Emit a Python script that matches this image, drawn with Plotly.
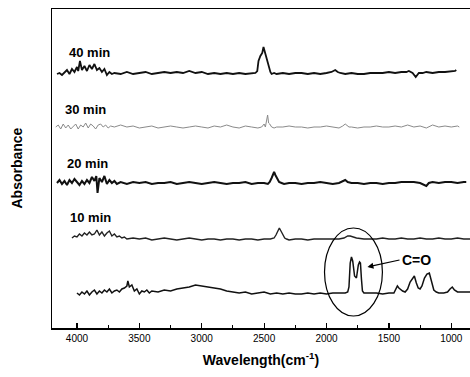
import plotly.graph_objects as go

# ---- data (wavenumber in cm^-1, absorbance offsets in arbitrary units) ----
x40 = [4160,4140,4120,4100,4080,4060,4040,4020,4000,3990,3976,3960,3940,3920,3900,3880,3860,3840,3820,3800,3780,3760,3740,3720,3700,
       3650,3600,3550,3500,3450,3400,3350,3300,3250,3200,3150,3100,3050,3000,2950,2900,2850,2800,2750,2700,2650,2600,2570,2555,2545,
       2530,2515,2505,2495,2485,2475,2465,2450,2440,2420,2400,2350,2300,2250,2200,2150,2100,2050,2000,1960,1930,1910,1890,1850,1800,
       1750,1700,1650,1600,1550,1500,1450,1400,1360,1340,1310,1285,1260,1230,1200,1150,1100,1050,1000,970,960]
y40 = [-1,0,-2,1,3,-1,4,1,6,2,12,3,7,2,8,4,9,3,5,1,4,-2,1,-1,0,
       -1,1,-1,0,1,-1,0,1,0,1,0,2,0,1,-1,0,-1,0,-1,0,-1,0,0,2,12,
       17,20,26,21,16,13,6,1,-1,0,-1,0,-1,0,0,-1,0,-1,0,1,3,1,0,-1,0,
       -1,-1,0,0,0,1,0,1,1,2,0,-4,0,0,1,0,1,1,2,2,3]

x30 = [4170,4150,4130,4110,4090,4070,4050,4030,4010,3990,3970,3950,3930,3910,3890,3870,3850,3830,3810,3790,3770,3750,3730,3700,
       3650,3600,3550,3500,3450,3400,3350,3300,3250,3200,3150,3100,3050,3000,2950,2900,2850,2800,2750,2700,2650,2600,2550,2520,
       2500,2490,2480,2472,2464,2455,2440,2420,2400,2350,2300,2250,2200,2150,2100,2050,2000,1950,1900,1870,1850,1820,1800,1750,
       1700,1650,1600,1550,1500,1450,1400,1350,1300,1250,1200,1150,1100,1050,1000,950,936]
y30 = [0,2,-2,3,-1,2,-2,1,3,-2,2,0,4,-1,3,1,-2,2,3,0,2,-1,1,0,
       2,0,1,-1,0,1,-1,0,1,0,-1,0,1,0,-1,1,0,2,0,-1,1,0,-1,0,
       3,0,6,12,4,3,0,-1,0,0,1,0,0,-1,0,0,1,0,-1,1,3,0,0,-1,
       0,0,1,0,0,1,0,2,0,1,-1,2,0,1,0,1,0]

x20 = [4160,4140,4120,4100,4080,4060,4040,4020,4000,3980,3960,3940,3920,3900,3880,3860,3845,3835,3820,3800,3780,3760,3740,3720,
       3700,3680,3650,3600,3550,3500,3450,3400,3350,3300,3250,3200,3150,3100,3050,3000,2950,2900,2850,2800,2750,2700,2650,2600,
       2550,2500,2470,2455,2440,2430,2420,2410,2395,2380,2360,2340,2300,2250,2200,2150,2100,2050,2000,1950,1900,1870,1850,1830,
       1800,1750,1700,1650,1600,1550,1500,1450,1400,1350,1300,1250,1220,1200,1180,1150,1100,1050,1000,950,900,880]
y20 = [0,3,-1,2,-2,3,0,4,1,-2,2,-1,3,0,6,2,7,-10,5,1,7,-1,3,0,
       2,-1,1,-1,1,0,1,-1,0,0,1,-1,0,1,0,-1,0,1,0,-1,0,0,1,-1,
       0,0,-1,1,5,9,11,8,5,1,0,-1,0,0,-1,0,0,1,0,-1,0,2,3,1,
       0,0,-1,0,0,-1,0,0,1,1,1,0,-2,-3,0,1,0,1,1,0,1,1]

x10 = [4040,4020,4000,3980,3960,3940,3920,3900,3880,3860,3840,3820,3800,3780,3760,3740,3720,3700,3680,3660,3640,3620,3600,
       3550,3500,3450,3400,3350,3300,3250,3200,3150,3100,3050,3000,2950,2900,2850,2800,2750,2700,2650,2600,2550,2500,2450,
       2420,2405,2390,2378,2365,2350,2335,2320,2300,2250,2200,2150,2100,2050,2000,1950,1900,1860,1830,1810,1790,1760,1700,
       1650,1600,1550,1500,1450,1400,1350,1300,1250,1200,1150,1100,1050,1000,950,900,850]
y10 = [1,3,2,5,3,6,4,7,4,5,9,4,7,3,6,8,3,5,2,3,1,2,0,
       1,0,1,-1,0,1,0,-1,0,1,0,-1,0,0,-1,0,0,-1,0,0,-1,0,0,
       1,4,9,11,8,4,1,0,-1,0,0,-1,0,0,0,0,0,1,3,3,2,1,0,
       0,0,1,0,0,1,0,0,1,0,0,1,0,0,1,0,0]

xb = [4000,3980,3960,3940,3920,3900,3880,3860,3840,3820,3800,3780,3760,3740,3720,3700,3680,3660,3640,3620,3600,3592,3580,
      3560,3540,3520,3500,3480,3460,3440,3420,3400,3350,3300,3250,3200,3150,3100,3050,3000,2950,2900,2850,2800,2750,2700,
      2650,2600,2550,2500,2450,2400,2350,2300,2250,2200,2150,2100,2050,2000,1950,1900,1850,1830,1820,1810,1800,1790,1775,
      1760,1745,1735,1728,1720,1712,1700,1650,1600,1550,1500,1460,1440,1432,1420,1405,1390,1370,1350,1330,1310,1296,1280,
      1265,1250,1235,1215,1195,1176,1160,1140,1120,1100,1060,1030,1010,992,975,950,900,850]
yb = [0,-2,1,-1,2,-2,1,3,-1,2,0,3,1,4,0,2,3,1,4,5,7,12,6,
      8,2,4,-1,2,1,3,0,2,1,3,2,4,5,6,8,7,6,5,4,2,1,0,
      1,-1,0,1,-1,0,-1,0,-1,-1,0,-1,0,-1,0,0,0,1,6,30,36,32,17,
      15,28,31,30,14,2,0,0,0,-1,0,0,5,7,5,3,2,1,4,11,15,17,10,
      5,4,7,15,19,20,12,3,1,0,0,1,4,6,3,1,1,1]

labels = ["40 min", "30 min", "20 min", "10 min"]
offsets = [255, 201, 145, 89, 35]
xs = [x40, x30, x20, x10, xb]
ys = [y40, y30, y20, y10, yb]
colors = ["#111111", "#8a8a8a", "#111111", "#222222", "#111111"]
widths = [1.8, 1.0, 2.0, 1.4, 1.5]
label_x = [4080, 4112, 4096, 4072]
label_y = [276, 219, 165, 111]

tick_vals = [4000, 3500, 3000, 2500, 2000, 1500, 1000]
tick_text = ["4000", "3500", "3000", "2500", "2000", "1500", "1000"]

FONT = "Liberation Sans, Arial"

fig = go.Figure()
for x, y, off, c, w in zip(xs, ys, offsets, colors, widths):
    fig.add_trace(go.Scatter(x=x, y=[v + off for v in y], mode="lines",
                             line=dict(color=c, width=w), showlegend=False, hoverinfo="skip"))

for t, lx, ly in zip(labels, label_x, label_y):
    fig.add_annotation(x=lx, y=ly, text=f"<b>{t}</b>", showarrow=False, xanchor="left",
                       yanchor="middle", font=dict(family=FONT, size=13, color="black"))

# C=O annotation with ellipse and arrow
fig.add_shape(type="circle", xref="x", yref="y", x0=2016, x1=1552, y0=12, y1=100,
              line=dict(color="black", width=1.2))
fig.add_annotation(x=1672, y=61, ax=1415, ay=68, axref="x", ayref="y", text="<b>C=O</b>",
                   showarrow=True, arrowhead=2, arrowsize=1, arrowwidth=1.2, arrowcolor="black",
                   xanchor="left", yanchor="middle", standoff=0,
                   font=dict(family=FONT, size=14, color="black"))

# y-axis title
fig.add_annotation(xref="paper", yref="paper", x=-36/418, y=0.5, text="<b>Absorbance</b>",
                   textangle=-90, showarrow=False, xanchor="center", yanchor="middle",
                   font=dict(family=FONT, size=14, color="black"))

fig.update_layout(
    width=470, height=377,
    margin=dict(l=52, r=0, t=9, b=49),
    paper_bgcolor="white", plot_bgcolor="white",
    xaxis=dict(range=[4200, 850], tickvals=tick_vals, ticktext=tick_text,
               ticks="inside", ticklen=5, tickwidth=1.2, tickcolor="black",
               minor=dict(dtick=250, ticks="inside", ticklen=3, tickcolor="black", tickwidth=1),
               showline=True, linecolor="black", linewidth=1.5, mirror=True,
               showgrid=False, zeroline=False,
               tickfont=dict(family=FONT, size=10, color="black"),
               title=dict(text="<b>Wavelength(cm<sup>-1</sup>)</b>", standoff=12,
                          font=dict(family=FONT, size=14, color="black"))),
    yaxis=dict(range=[0, 319], showticklabels=False, ticks="", showgrid=False, zeroline=False,
               showline=True, linecolor="black", linewidth=1.5, mirror=False),
)

fig.write_html("out.html", config={"displayModeBar": False, "staticPlot": True},
               post_script="document.body.style.margin='0';document.body.style.overflow='hidden';")
